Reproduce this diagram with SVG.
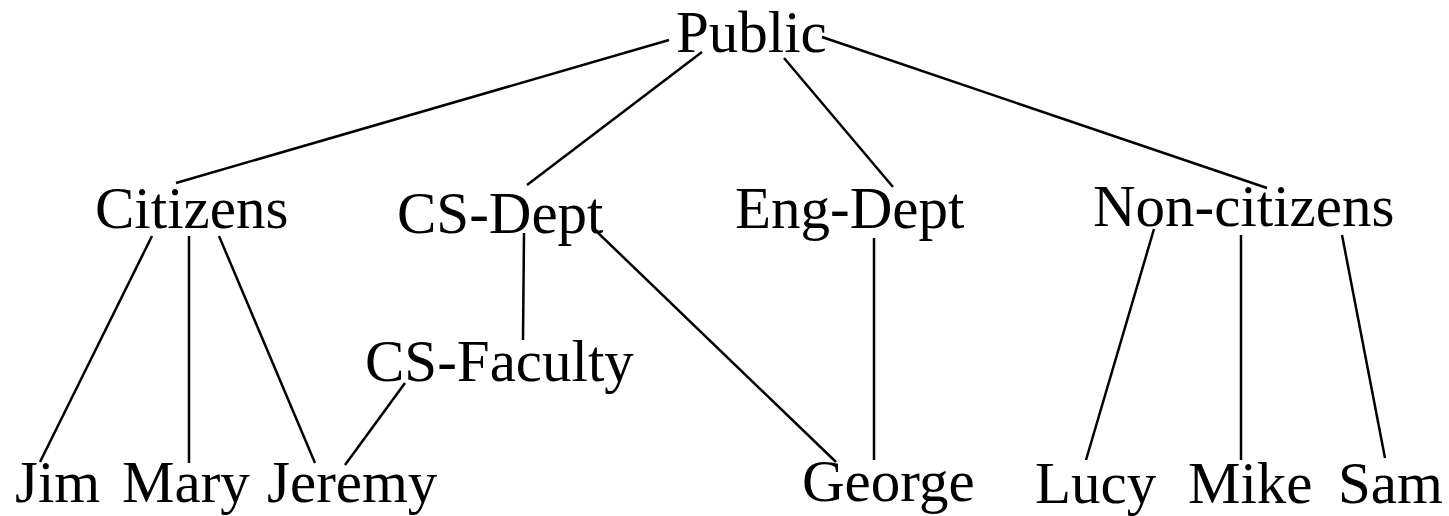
<svg xmlns="http://www.w3.org/2000/svg" width="1449" height="516" viewBox="0 0 1449 516">
<style>
text{font-family:"Liberation Serif","Times New Roman",serif;font-size:59px;fill:#000}
.e line{stroke:#000;stroke-width:2.5;stroke-linecap:butt}
</style>
<rect width="1449" height="516" fill="#fff"/>
<g class="e" id="connectors">
<line x1="669" y1="40" x2="176" y2="183"/>
<line x1="702" y1="52" x2="527" y2="185"/>
<line x1="784" y1="58" x2="893" y2="187"/>
<line x1="822" y1="37" x2="1267" y2="188"/>
<line x1="152" y1="236" x2="40" y2="462"/>
<line x1="189" y1="236" x2="189" y2="463"/>
<line x1="219" y1="236" x2="315" y2="463"/>
<line x1="524" y1="233" x2="523" y2="340"/>
<line x1="593" y1="228" x2="836" y2="462"/>
<line x1="405" y1="383" x2="345" y2="465"/>
<line x1="874" y1="238" x2="874" y2="460"/>
<line x1="1154" y1="229" x2="1086" y2="460"/>
<line x1="1241" y1="235" x2="1241" y2="460"/>
<line x1="1342" y1="235" x2="1385" y2="458"/>
</g>
<g id="public"><text x="676" y="52">Public</text></g>
<g id="citizens"><text x="95" y="228">Citizens</text></g>
<g id="cs-dept"><text x="397" y="233">CS-Dept</text></g>
<g id="eng-dept"><text x="735" y="228">Eng-Dept</text></g>
<g id="non-citizens"><text x="1093" y="226">Non-citizens</text></g>
<g id="cs-faculty"><text x="365" y="381">CS-Faculty</text></g>
<g id="jim"><text x="15" y="502">Jim</text></g>
<g id="mary"><text x="122" y="502">Mary</text></g>
<g id="jeremy"><text x="267" y="502">Jeremy</text></g>
<g id="george"><text x="802" y="501">George</text></g>
<g id="lucy"><text x="1035" y="503">Lucy</text></g>
<g id="mike"><text x="1188" y="503">Mike</text></g>
<g id="sam"><text x="1338" y="503">Sam</text></g>
</svg>
